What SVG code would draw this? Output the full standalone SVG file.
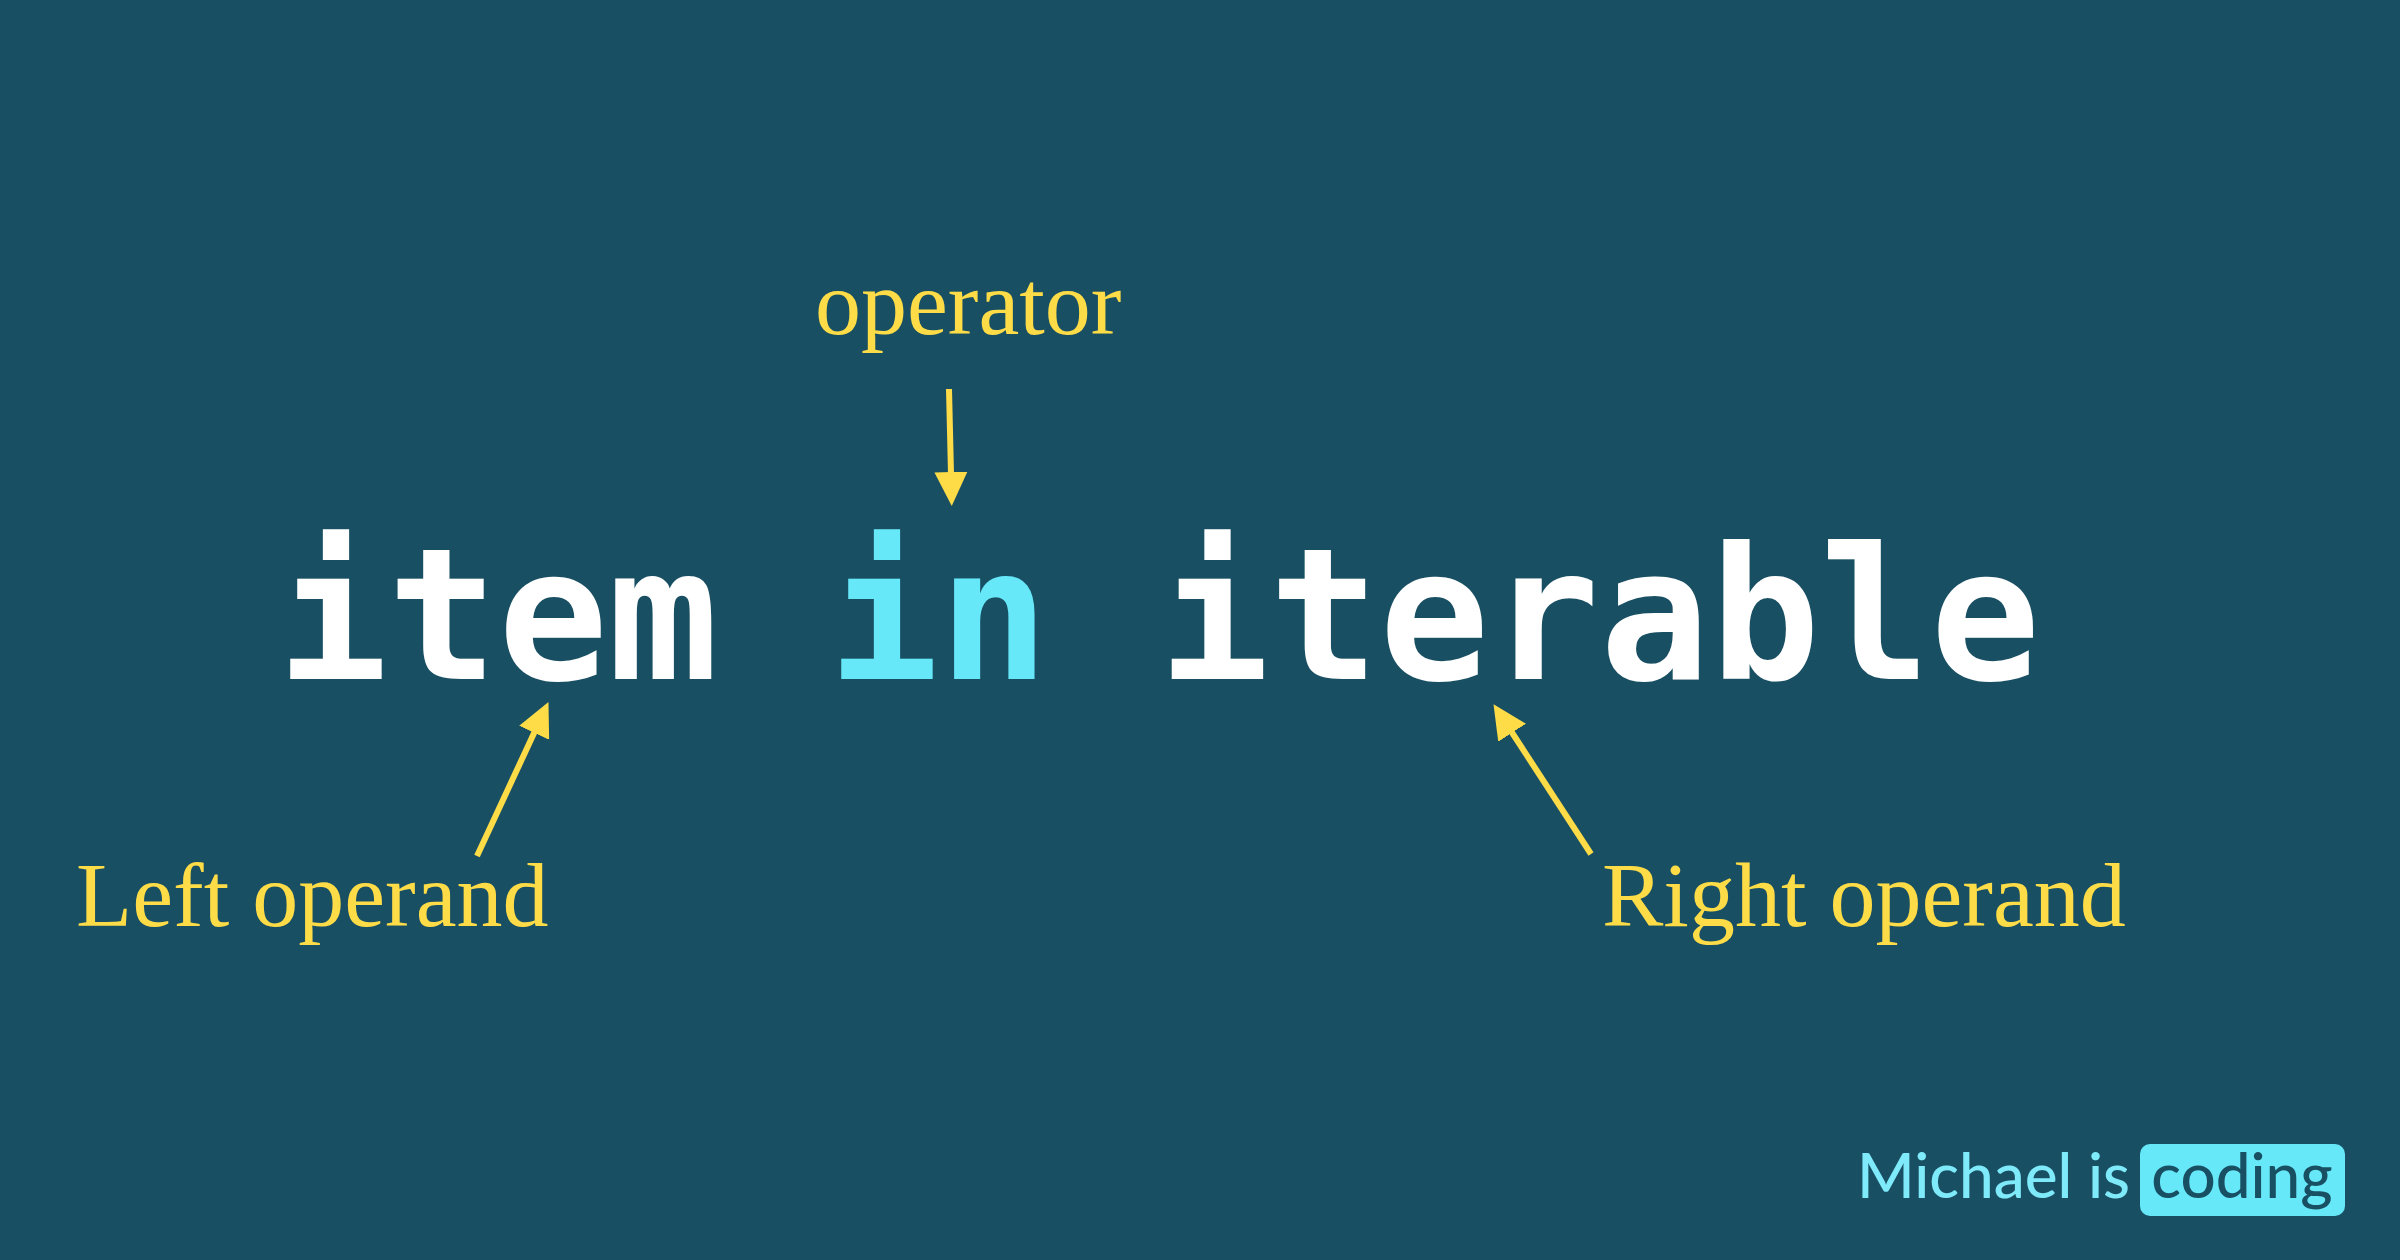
<svg xmlns="http://www.w3.org/2000/svg" width="2400" height="1260" viewBox="0 0 2400 1260">
  <style>
    .code { font-family: "DejaVu Sans Mono", "Liberation Mono", monospace; font-weight: bold; font-size: 183px; fill: #ffffff; }
    .kw { fill: #67e8f9; }
    .label { font-family: "Liberation Serif", "Times New Roman", serif; font-size: 92px; fill: #fddc47; }
    .arrow { stroke: #fddc47; stroke-width: 6; fill: none; marker-end: url(#head); }
    .brand { font-family: "Lato", "Noto Sans", sans-serif; font-size: 62px; font-weight: 500; }
  </style>
  <defs>
    <marker id="head" markerUnits="userSpaceOnUse" viewBox="0 -18 36 36" markerWidth="36" markerHeight="36" refX="2" refY="0" orient="auto">
      <path d="M0,-16.5 L34,0 L0,16.5 Z" fill="#fddc47"/>
    </marker>
  </defs>

  <rect width="2400" height="1260" fill="#194f63"/>

  <!-- expression -->
  <g id="expression">
    <text class="code" x="1159" y="679" text-anchor="middle">item <tspan class="kw">in</tspan> iterable</text>
  </g>

  <!-- annotations -->
  <g id="operator-label">
    <text class="label" x="815" y="334" font-size="94">operator</text>
  </g>
  <g id="left-operand-label">
    <text class="label" x="76" y="926">Left operand</text>
  </g>
  <g id="right-operand-label">
    <text class="label" x="1602" y="926">Right operand</text>
  </g>

  <!-- arrows -->
  <g id="connectors">
    <path class="arrow" d="M949,389 L951,474"/>
    <path class="arrow" d="M477,856 L535,731"/>
    <path class="arrow" d="M1591,854 L1511,731"/>
  </g>

  <!-- signature -->
  <g id="signature">
    <text class="brand" x="2130" y="1198" text-anchor="end" fill="#7eeafa">Michael is</text>
    <rect x="2140" y="1144" width="205" height="72" rx="10" fill="#67e8f9"/>
    <text class="brand" x="2242" y="1198" text-anchor="middle" fill="#194f63">coding</text>
  </g>
</svg>
